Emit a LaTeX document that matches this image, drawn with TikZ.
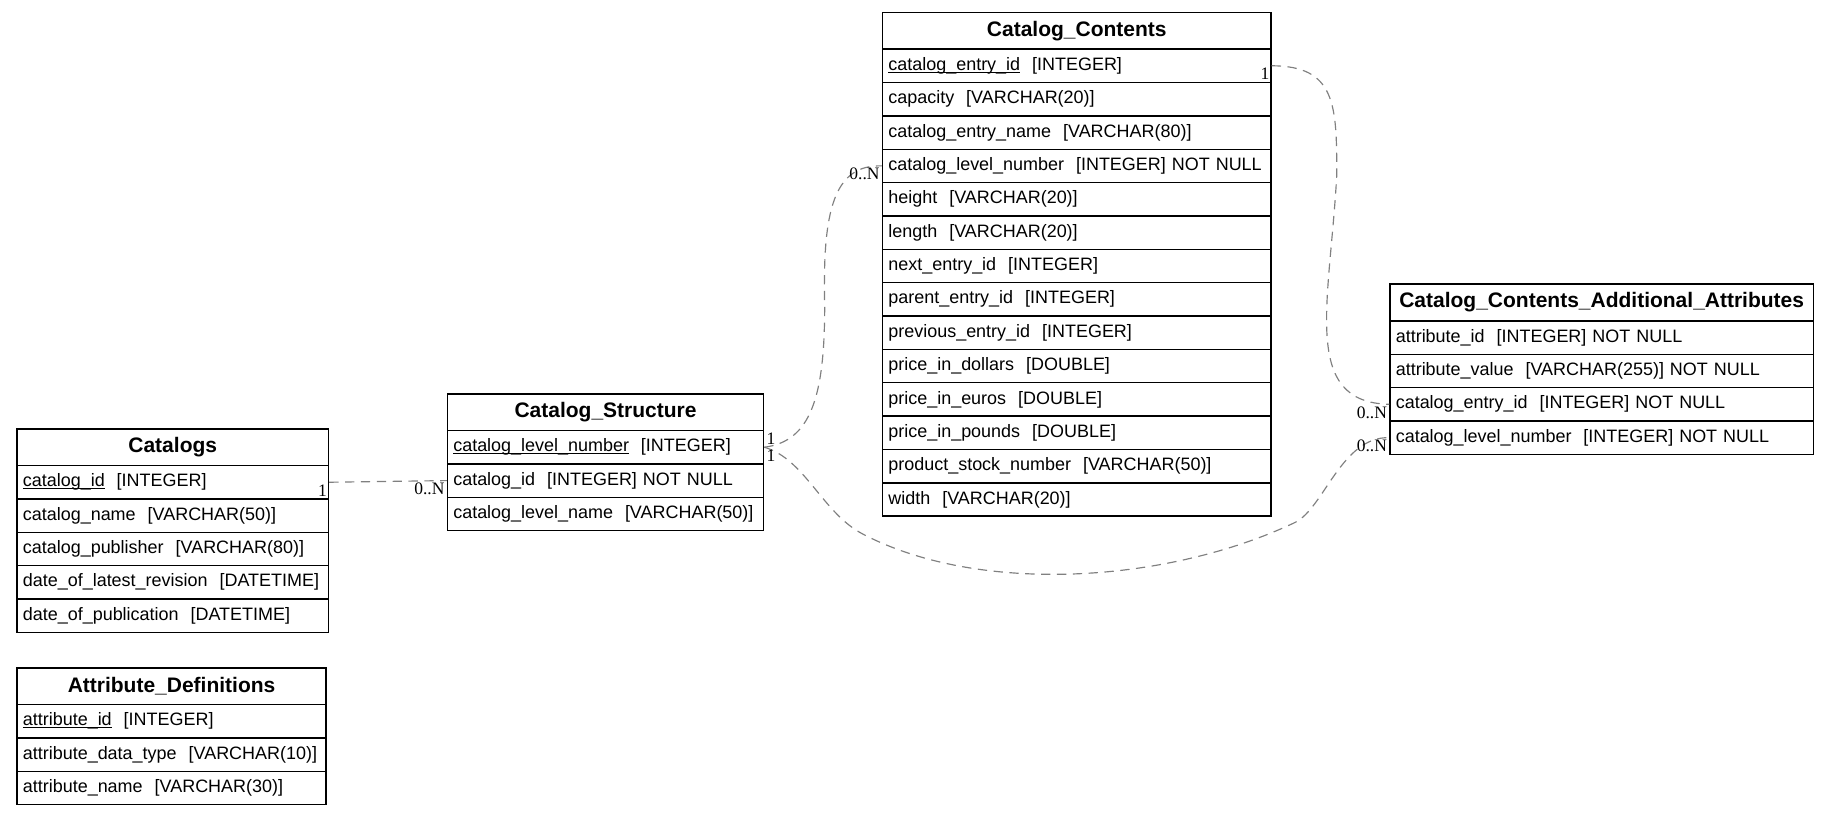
\documentclass[tikz,border=0pt]{standalone}
\usepackage{fontspec}
\setmainfont{Liberation Sans}
\newfontfamily\cardfont{Liberation Serif}
\usepackage{xcolor}
\usepackage{tikz}
\newcommand{\pkey}[1]{\setbox0=\hbox{#1}\rlap{\rule[-1pt]{\wd0}{0.45pt}}\box0}

\begin{document}
\begin{tikzpicture}[x=0.5pt, y=-0.5pt,
    tabletitle/.style={draw, line width=0.6pt, anchor=north west, inner xsep=2pt, inner ysep=0pt,
      minimum height=15.75pt, align=center, font=\fontsize{9}{10}\selectfont\bfseries},
    tablerow/.style={draw, line width=0.6pt, anchor=north west, inner xsep=2.5pt, inner ysep=0pt,
      minimum height=14.3pt, align=left, font=\fontsize{7.7}{9}\selectfont},
    fk/.style={draw=gray, dash pattern=on 4pt off 2.8pt, line width=0.5pt},
    card/.style={font=\cardfont\fontsize{7.5}{8}\selectfont, inner sep=0.8pt}]
    \useasboundingbox (0,0) rectangle (1568,698);

    \node[tabletitle, text width=129.5pt] (cat) at (14,367) {Catalogs};
    \foreach \txt [count=\i] in {{\pkey{catalog\_id}~~[INTEGER]},
        {catalog\_name~~[VARCHAR(50)]},
        {catalog\_publisher~~[VARCHAR(80)]},
        {date\_of\_latest\_revision~~[DATETIME]},
        {date\_of\_publication~~[DATETIME]}}
      \node[tablerow, text width=128.5pt] (cat-\i) at (14,{398.5+(\i-1)*28.6}) {\txt};

    \node[tabletitle, text width=128.5pt] (ad) at (14,572) {Attribute\_Definitions};
    \foreach \txt [count=\i] in {{\pkey{attribute\_id}~~[INTEGER]},
        {attribute\_data\_type~~[VARCHAR(10)]},
        {attribute\_name~~[VARCHAR(30)]}}
      \node[tablerow, text width=127.5pt] (ad-\i) at (14,{603.5+(\i-1)*28.6}) {\txt};

    \node[tabletitle, text width=131.5pt] (cs) at (383,337) {Catalog\_Structure};
    \foreach \txt [count=\i] in {{\pkey{catalog\_level\_number}~~[INTEGER]},
        {catalog\_id~~[INTEGER]~NOT~NULL},
        {catalog\_level\_name~~[VARCHAR(50)]}}
      \node[tablerow, text width=130.5pt] (cs-\i) at (383,{368.5+(\i-1)*28.6}) {\txt};

    \node[tabletitle, text width=162.5pt] (cc) at (756,10) {Catalog\_Contents};
    \foreach \txt [count=\i] in {{\pkey{catalog\_entry\_id}~~[INTEGER]},
        {capacity~~[VARCHAR(20)]},
        {catalog\_entry\_name~~[VARCHAR(80)]},
        {catalog\_level\_number~~[INTEGER]~NOT~NULL},
        {height~~[VARCHAR(20)]},
        {length~~[VARCHAR(20)]},
        {next\_entry\_id~~[INTEGER]},
        {parent\_entry\_id~~[INTEGER]},
        {previous\_entry\_id~~[INTEGER]},
        {price\_in\_dollars~~[DOUBLE]},
        {price\_in\_euros~~[DOUBLE]},
        {price\_in\_pounds~~[DOUBLE]},
        {product\_stock\_number~~[VARCHAR(50)]},
        {width~~[VARCHAR(20)]}}
      \node[tablerow, text width=161.5pt] (cc-\i) at (756,{41.5+(\i-1)*28.6}) {\txt};

    \node[tabletitle, text width=177.5pt] (ccaa) at (1191,243) {Catalog\_Contents\_Additional\_Attributes};
    \foreach \txt [count=\i] in {{attribute\_id~~[INTEGER]~NOT~NULL},
        {attribute\_value~~[VARCHAR(255)]~NOT~NULL},
        {catalog\_entry\_id~~[INTEGER]~NOT~NULL},
        {catalog\_level\_number~~[INTEGER]~NOT~NULL}}
      \node[tablerow, text width=176.5pt] (ccaa-\i) at (1191,{274.5+(\i-1)*28.6}) {\txt};

    \coordinate (up1) at (707,262);
    \coordinate (lo1) at (740,458);
    \coordinate (lo2) at (1110,448);
    \coordinate (rt1) at (1146,150);

    \draw[fk] (cat-1.east) -- (cs-2.west);
    \draw[fk] (cs-1.east) .. controls +(40,-5) and (707,340) .. (up1)
      .. controls (705,180) and (715,141) .. (cc-4.west);
    \draw[fk] (cs-1.east) .. controls +(35,10) and (705,440) .. (lo1)
      .. controls (840,510) and (1000,500) .. (lo2)
      .. controls (1135,436) and (1150,374) .. (ccaa-4.west);
    \draw[fk] (cc-1.east) .. controls +(55,0) and (1146,90) .. (rt1)
      .. controls (1140,260) and (1115,345) .. (ccaa-3.west);

    \node[card, anchor=north east] (n1) at (cat-1.east) {1};
    \node[card, anchor=north east] (n2) at (cs-2.west) {0..N};
    \node[card, anchor=south west] (n3) at (cs-1.east) {1};
    \node[card, anchor=north west] (n4) at (cs-1.east) {1};
    \node[card, anchor=north east] (n5) at (cc-4.west) {0..N};
    \node[card, anchor=north east] (n6) at (cc-1.east) {1};
    \node[card, anchor=north east] (n7) at (ccaa-3.west) {0..N};
    \node[card, anchor=north east] (n8) at (ccaa-4.west) {0..N};
\end{tikzpicture}
\end{document}
